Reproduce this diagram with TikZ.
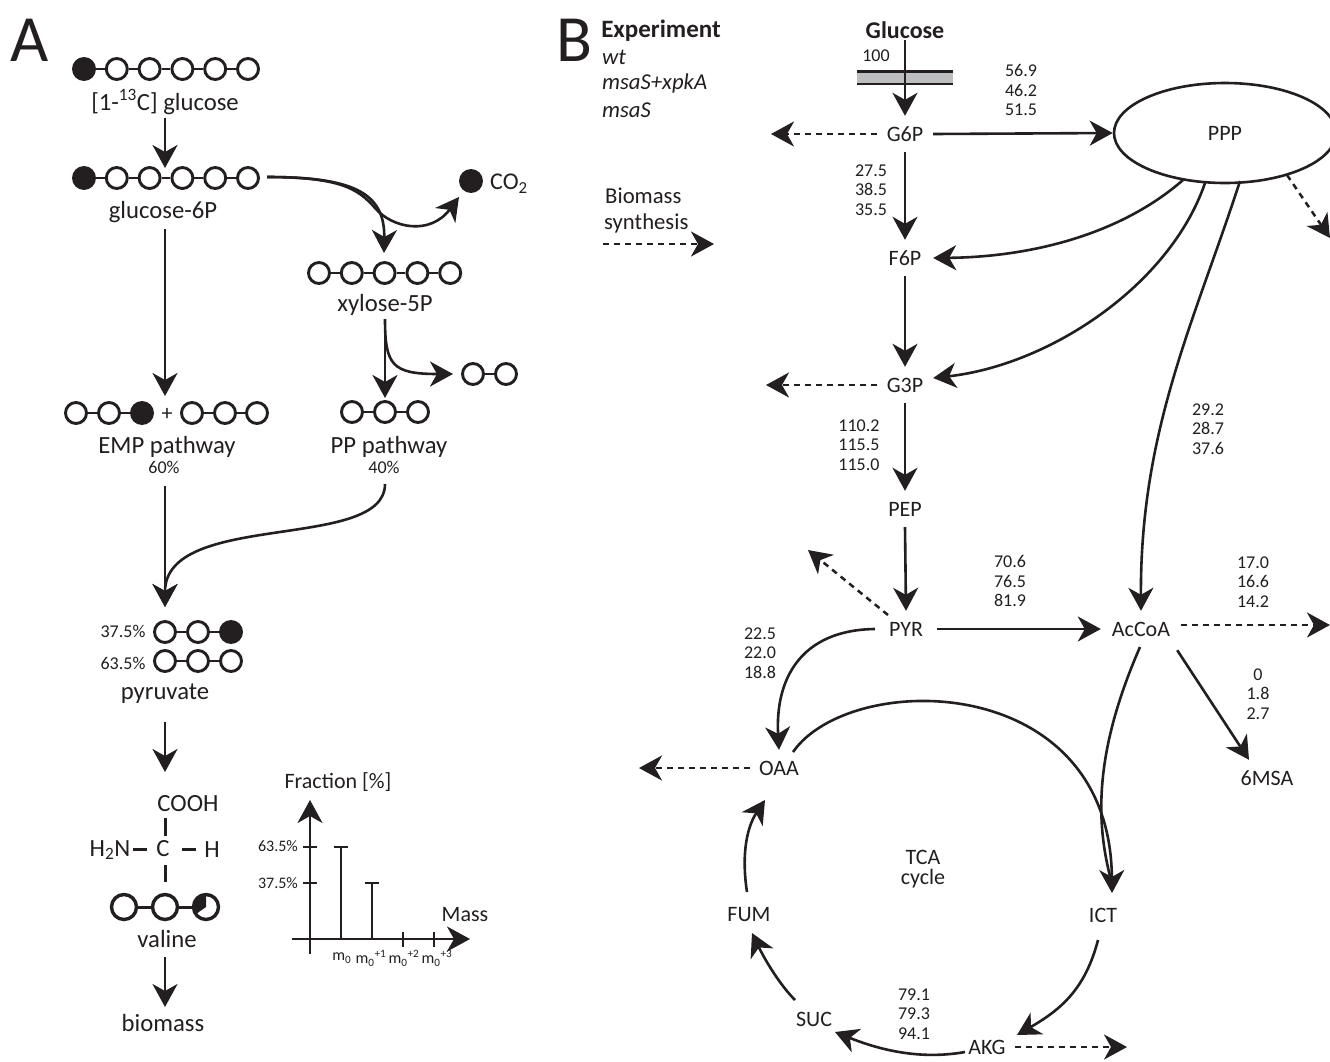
\documentclass[tikz,border=0pt]{standalone}
\usepackage{fontspec}
\setmainfont{Carlito}
\usetikzlibrary{arrows.meta,shapes.geometric}
\definecolor{ink}{HTML}{231F20}
\definecolor{memb}{HTML}{BCBEC0}
\tikzset{
  x=1pt,y=-1pt,
  every node/.style={text=ink,inner sep=0pt},
  copen/.style={circle,draw=ink,fill=white,line width=2.9pt,minimum size=21pt},
  cfull/.style={circle,draw=ink,fill=ink,line width=2.9pt,minimum size=21pt},
  vopen/.style={circle,draw=ink,fill=white,line width=3.4pt,minimum size=25pt},
  bond/.style={draw=ink,line width=2.7pt},
  flow/.style={draw=ink,line width=2.6pt,-{Stealth[length=23pt,width=25pt,inset=7pt]}},
  dflow/.style={draw=ink,line width=2.5pt,dash pattern=on 6pt off 5pt,-{Stealth[length=23pt,width=25pt,inset=7pt]}},
  lab/.style={font=\fontsize{24.7}{26}\selectfont,minimum height=24pt,align=center},
  small/.style={font=\fontsize{18}{19}\selectfont,align=center},
  tiny/.style={font=\fontsize{16}{17}\selectfont,align=center},
  met/.style={font=\fontsize{22}{23}\selectfont,minimum width=56pt,minimum height=36pt},
  nums/.style={font=\fontsize{18}{19.6}\selectfont,align=center},
  panel/.style={font=\fontsize{66}{70}\selectfont},
  side/.style={anchor=west,font=\fontsize{22.7}{24}\selectfont},
}
\begin{document}
\begin{tikzpicture}
\useasboundingbox (0,0) rectangle (1330,1061);
\clip (0,0) rectangle (1330,1061);
\fill[white] (0,0) rectangle (1330,1061);
% ---------- panel A
\node[panel] (pA) at (30,40) {A};
\foreach \i/\x/\st in {1/84/cfull,2/116.8/copen,3/149.6/copen,4/182.4/copen,5/215.2/copen,6/248/copen}{
  \node[\st] (ga\i) at (\x,69) {};
  \node[\st] (gb\i) at (\x,178) {};
}
\foreach \i/\j in {1/2,2/3,3/4,4/5,5/6}{
  \draw[bond] (ga\i) -- (ga\j);
  \draw[bond] (gb\i) -- (gb\j);
}
\node[lab] (lglc) at (165,102) {[1-\textsuperscript{13}C] glucose};
\node[lab] (lg6p) at (163,212) {glucose-6P};
\coordinate (g6top) at (165,168);
\coordinate (g6start) at (165,118);
\draw[flow] (g6start) -- (g6top);
\coordinate (emptop) at (165,396);
\coordinate (g6down) at (165,229);
\draw[flow] (g6down) -- (emptop);
\node[cfull] (co2dot) at (471,181) {};
\node[font=\fontsize{24}{25}\selectfont,anchor=west] (lco2) at (490,184) {CO\textsubscript{2}};
\coordinate (g6r) at (267,177);
\coordinate (co2in) at (459,197);
\coordinate (xyin) at (384,253);
\draw[flow] (g6r) .. controls (352,177) and (385,192) .. (xyin);
\draw[flow] (g6r) .. controls (338,177) and (358,188) .. (375,208) .. controls (392,228) and (430,236) .. (co2in);
\foreach \i/\x in {1/319,2/351.8,3/384.6,4/417.4,5/450.2}{
  \node[copen] (xa\i) at (\x,273) {};
}
\foreach \i/\j in {1/2,2/3,3/4,4/5}{ \draw[bond] (xa\i) -- (xa\j); }
\node[lab] (lxyl) at (385,305) {xylose-5P};
\coordinate (xyout) at (385,319);
\coordinate (ppin) at (385,398);
\coordinate (twoin) at (453,374);
\draw[flow] (xyout) -- (ppin);
\draw[flow] (xyout) .. controls (385,365) and (392,374) .. (twoin);
\foreach \i/\x/\st in {1/76/copen,2/109/copen,3/142/cfull,4/192/copen,5/225/copen,6/257/copen}{
  \node[\st] (em\i) at (\x,413) {};
}
\foreach \i/\j in {1/2,2/3,4/5,5/6}{ \draw[bond] (em\i) -- (em\j); }
\node[font=\fontsize{22}{23}\selectfont] (plus) at (167,414) {+};
\foreach \i/\x in {1/352,2/385,3/418}{ \node[copen] (pp\i) at (\x,412) {}; }
\foreach \i/\j in {1/2,2/3}{ \draw[bond] (pp\i) -- (pp\j); }
\foreach \i/\x in {1/473,2/506}{ \node[copen] (tw\i) at (\x,374) {}; }
\draw[bond] (tw1) -- (tw2);
\node[lab] (lemp) at (167,447) {EMP pathway};
\node[lab] (lpp) at (389,447) {PP pathway};
\node[small] (p60) at (164,467) {60\%};
\node[small] (p40) at (384,467) {40\%};
\coordinate (empout) at (165,486);
\coordinate (ppout) at (385,484);
\coordinate (pyin) at (165,607);
\draw[flow] (empout) -- (pyin);
\draw[flow] (ppout) .. controls (385,552) and (165,510) .. (pyin);
\foreach \i/\x/\st in {1/165/copen,2/198/copen,3/231/cfull}{
  \node[\st] (pa\i) at (\x,632) {};
}
\foreach \i/\x in {1/165,2/198,3/231}{ \node[copen] (pb\i) at (\x,661) {}; }
\foreach \i/\j in {1/2,2/3}{ \draw[bond] (pa\i) -- (pa\j); \draw[bond] (pb\i) -- (pb\j); }
\node[small] (p375) at (123,631) {37.5\%};
\node[small] (p635) at (123,663) {63.5\%};
\node[lab] (lpyr) at (165,694) {pyruvate};
\coordinate (pyout) at (165,722);
\coordinate (vaup) at (165,772);
\draw[flow] (pyout) -- (vaup);
\node[lab] (lcooh) at (188,804) {COOH};
\node[lab] (lc) at (163,849) {C};
\node[lab] (lh2n) at (110,850) {H\textsubscript{2}N};
\node[lab] (lh) at (212,850) {H};
\coordinate (bua) at (165,818); \coordinate (bub) at (165,836);
\coordinate (bda) at (165,865); \coordinate (bdb) at (165,882);
\coordinate (bla) at (133,849); \coordinate (blb) at (147,849);
\coordinate (bra) at (182,849); \coordinate (brb) at (196,849);
\draw[bond,line width=3pt] (bua) -- (bub);
\draw[bond,line width=3pt] (bda) -- (bdb);
\draw[bond,line width=3pt] (bla) -- (blb);
\draw[bond,line width=3pt] (bra) -- (brb);
\foreach \i/\x in {1/124,2/165,3/206}{ \node[vopen] (va\i) at (\x,907) {}; }
\foreach \i/\j in {1/2,2/3}{ \draw[bond,line width=3pt] (va\i) -- (va\j); }
\fill[ink] (va3.center) -- ++(-12.5,0) arc (180:270:12.5) -- cycle;
\fill[ink] (va3.center) -- ++(-12.5,0) arc (180:145:12.5) -- cycle;
\node[lab] (lval) at (167,939) {valine};
\coordinate (vaout) at (165,957);
\coordinate (biomin) at (165,1007);
\draw[flow] (vaout) -- (biomin);
\node[lab] (lbio) at (163,1023) {biomass};
% chart
\coordinate (yo) at (310,954);
\coordinate (yt) at (310,800);
\coordinate (xo) at (292,939);
\coordinate (xt) at (470,939);
\draw[flow] (yo) -- (yt);
\draw[flow] (xo) -- (xt);
\node[font=\fontsize{22}{23}\selectfont] (lfrac) at (338,782) {Fraction [\%]};
\node[font=\fontsize{22}{23}\selectfont] (lmass) at (465,915) {Mass};
\node[tiny] (t635) at (278,846) {63.5\%};
\node[tiny] (t375) at (278,883) {37.5\%};
\draw[bond] (303,847) -- (317,847);
\draw[bond] (303,883) -- (317,883);
\draw[bond] (341,939) -- (341,847);
\draw[bond] (334,847) -- (348,847);
\draw[bond] (372,939) -- (372,883);
\draw[bond] (365,883) -- (379,883);
\draw[bond] (403,932) -- (403,947);
\draw[bond] (434,932) -- (434,947);
\foreach \n/\x/\t in {a/342/{},b/371/{+1},c/404/{+2},d/437/{+3}}{
  \node[tiny] (m\n) at (\x,958) {m\textsubscript{0}\textsuperscript{\t}};
}
% ---------- panel B
\node[panel] (pB) at (574,40) {B};
\node[font=\fontsize{25}{26}\selectfont\bfseries] (lexp) at (661,31) {Experiment};
\node[side,font=\fontsize{22.7}{24}\selectfont\itshape] (lwt) at (602,57) {wt};
\node[side,font=\fontsize{22.7}{24}\selectfont\itshape] (lmx) at (602,83) {msaS+xpkA};
\node[side,font=\fontsize{22.7}{24}\selectfont\itshape] (lms) at (602,110) {msaS};
\node[side] (lbs1) at (605,196) {Biomass};
\node[side] (lbs2) at (604,223) {synthesis};
\coordinate (bsa) at (603,244);
\coordinate (bsb) at (714,244);
\draw[dflow] (bsa) -- (bsb);
\node[font=\fontsize{24}{25}\selectfont\bfseries] (lglu) at (905,30) {Glucose};
\fill[memb] (857,70) rectangle (953,85);
\draw[draw=ink,line width=3pt] (857,71) -- (953,71);
\draw[draw=ink,line width=2pt] (857,84) -- (953,84);
\node[met] (G6P) at (905,134) {G6P};
\node[met] (F6P) at (905,258) {F6P};
\node[met] (G3P) at (905,385) {G3P};
\node[met] (PEP) at (905,509) {PEP};
\node[met,minimum width=62pt] (PYR) at (906,629) {PYR};
\node[met,minimum width=80pt] (ACA) at (1141,629) {AcCoA};
\node[met] (OAA) at (779,768) {OAA};
\node[met] (ICT) at (1103,915) {ICT};
\node[met] (FUM) at (749,915) {FUM};
\node[met] (SUC) at (814,1019) {SUC};
\node[met] (AKG) at (987,1047) {AKG};
\node[met] (MSA) at (1267,778) {6MSA};
\node[draw=ink,line width=2.6pt,ellipse,minimum width=222pt,minimum height=100pt,font=\fontsize{22}{23}\selectfont] (PPP) at (1225,133) {PPP};
\draw[flow] (lglu.south) ++(0,1) -- (G6P.north);
\draw[flow] (G6P.east) -- (PPP.west);
\draw[flow] (G6P.south) -- (F6P.north);
\draw[flow] (F6P.south) -- (G3P.north);
\draw[flow] (G3P.south) -- (PEP.north);
\draw[flow] (PEP.south) -- (PYR.north);
\draw[flow] (PYR.east) -- (ACA.west);
\coordinate (glw) at (771,134);
\draw[dflow] (G6P.west) -- (glw);
\coordinate (g3w) at (766,385);
\draw[dflow] (G3P.west) -- (g3w);
\coordinate (oaw) at (639,768);
\draw[dflow] (OAA.west) ++(-1,0) -- (oaw);
\coordinate (pyn) at (808,550);
\coordinate (pyd) at (888,615);
\draw[dflow] (pyd) -- (pyn);
\coordinate (ace) at (1330,625);
\draw[dflow] (ACA.east) ++(0,-4) -- (ace);
\coordinate (akge) at (1127,1047);
\draw[dflow] (AKG.east) -- (akge);
\coordinate (ppd) at (1287,175);
\coordinate (ppde) at (1330,238);
\draw[dflow] (ppd) -- (ppde);
\coordinate (ppa) at (1183,180);
\coordinate (ppb) at (1205,183);
\coordinate (ppc) at (1240,181);
\draw[flow] (ppa) .. controls (1120,235) and (1030,257) .. (F6P.east);
\draw[flow] (ppb) .. controls (1170,285) and (1050,365) .. ([yshift=7pt]G3P.east);
\draw[flow] (ppc) .. controls (1195,320) and (1140,430) .. (ACA.north);
\draw[flow] (ACA.south east) ++(-4,3) -- ([xshift=-18pt]MSA.north);
\draw[flow] (PYR.west) .. controls (800,630) and (775,680) .. (OAA.north);
\coordinate (oau) at (793,752);
\coordinate (ictin) at (1112,893);
\coordinate (acd) at (1140,647);
\coordinate (ictj) at (1111,880);
\coordinate (icto) at (1098,940);
\coordinate (akgi) at (1017,1035);
\coordinate (akgo) at (965,1052);
\coordinate (suci) at (835,1032);
\coordinate (suco) at (795,1000);
\coordinate (fumi) at (752,933);
\coordinate (fumo) at (747,892);
\coordinate (oai) at (765,800);
\draw[flow] (oau) .. controls (850,670) and (1110,670) .. (ictin);
\draw[line width=2.6pt,draw=ink] (acd) .. controls (1095,750) and (1095,820) .. (ictj);
\draw[flow] (icto) .. controls (1085,990) and (1060,1010) .. (akgi);
\draw[flow] (akgo) .. controls (920,1060) and (880,1050) .. (suci);
\draw[flow] (suco) .. controls (780,985) and (765,960) .. (fumi);
\draw[flow] (fumo) .. controls (742,860) and (745,830) .. (oai);
\node[font=\fontsize{22}{20}\selectfont,align=center] (ltca) at (923,869) {TCA\\cycle};
\node[nums] (n100) at (876,56) {100};
\node[nums] (n1) at (1021,90) {56.9\\46.2\\51.5};
\node[nums] (n2) at (871,190) {27.5\\38.5\\35.5};
\node[nums] (n3) at (859,445) {110.2\\115.5\\115.0};
\node[nums] (n4) at (1010,581) {70.6\\76.5\\81.9};
\node[nums] (n5) at (760,653) {22.5\\22.0\\18.8};
\node[nums] (n6) at (1253,582) {17.0\\16.6\\14.2};
\node[nums] (n7) at (1258,694) {0\\1.8\\2.7};
\node[nums] (n8) at (1208,429) {29.2\\28.7\\37.6};
\node[nums] (n9) at (914,1014) {79.1\\79.3\\94.1};
\end{tikzpicture}
\end{document}
